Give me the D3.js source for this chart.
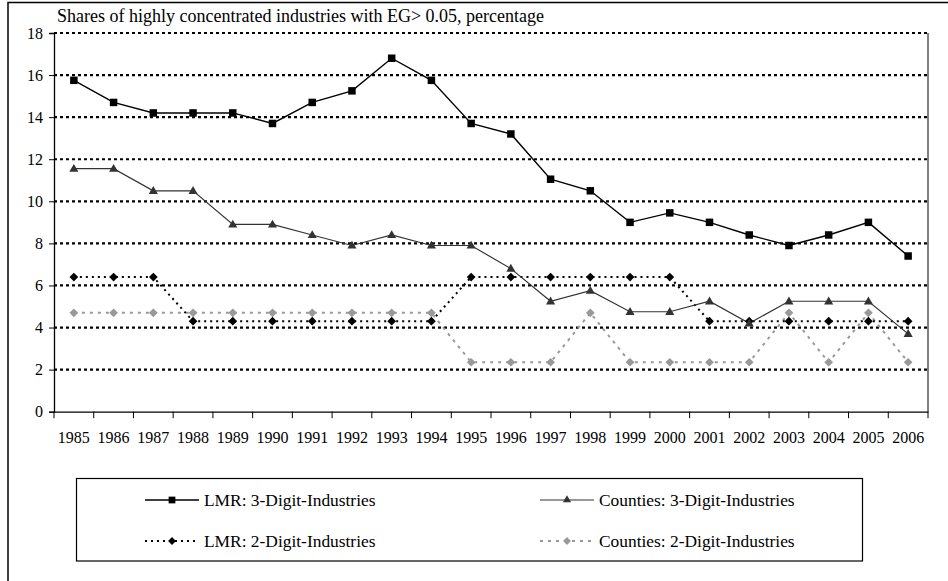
<!DOCTYPE html>
<html><head><meta charset="utf-8">
<script src="https://cdn.jsdelivr.net/npm/d3@7"></script>
<style>html,body{margin:0;padding:0;background:#fff;overflow:hidden}svg{display:block}</style>
</head><body>
<script>
const years = [1985,1986,1987,1988,1989,1990,1991,1992,1993,1994,1995,1996,1997,1998,1999,2000,2001,2002,2003,2004,2005,2006];
const lmr3 = [15.75,14.7,14.2,14.2,14.2,13.7,14.7,15.25,16.8,15.75,13.7,13.2,11.05,10.5,9.0,9.45,9.0,8.4,7.9,8.4,9.0,7.4];
const cty3 = [11.55,11.55,10.5,10.5,8.9,8.9,8.4,7.9,8.4,7.9,7.9,6.8,5.25,5.75,4.75,4.75,5.25,4.2,5.25,5.25,5.25,3.7];
const lmr2 = [6.4,6.4,6.4,4.3,4.3,4.3,4.3,4.3,4.3,4.3,6.4,6.4,6.4,6.4,6.4,6.4,4.3,4.3,4.3,4.3,4.3,4.3];
const cty2 = [4.7,4.7,4.7,4.7,4.7,4.7,4.7,4.7,4.7,4.7,2.35,2.35,2.35,4.7,2.35,2.35,2.35,2.35,4.7,2.35,4.7,2.35];
const yTicks = [0,2,4,6,8,10,12,14,16,18];
const titleText = "Shares of highly concentrated industries with EG> 0.05, percentage";
const seriesNames = ["LMR: 3-Digit-Industries","Counties: 3-Digit-Industries","LMR: 2-Digit-Industries","Counties: 2-Digit-Industries"];

const W = 948, H = 581;
const FONT = "'Liberation Serif', 'Times New Roman', serif";
const svg = d3.select("body").append("svg").attr("width", W).attr("height", H);

svg.append("rect").attr("x",8).attr("y",2.5).attr("width",W+20).attr("height",H+20)
  .attr("fill","none").attr("stroke","#000").attr("stroke-width",1.5);

const L = 54, R = 928, T = 33, B = 411.7;
const x = d3.scaleBand().domain(years).range([L,R]);
const y = d3.scaleLinear().domain([0,18]).range([B,T]);
const cx = d => x(d) + x.bandwidth()/2;

svg.append("g").selectAll("line").data(yTicks.filter(v=>v>0)).join("line")
  .attr("x1",L).attr("x2",R).attr("y1",d=>y(d)).attr("y2",d=>y(d))
  .attr("stroke","#000").attr("stroke-width",2.2).attr("stroke-dasharray","3,3");

svg.append("line").attr("x1",R).attr("x2",R).attr("y1",T).attr("y2",B).attr("stroke","#000").attr("stroke-width",1);

const yAxis = svg.append("g").attr("transform",`translate(${L},0)`)
  .call(d3.axisLeft(y).tickValues(yTicks).tickSize(5).tickPadding(6).tickFormat(d3.format("d")));
yAxis.select(".domain").attr("stroke","#000").attr("stroke-width",1.3);
yAxis.selectAll(".tick line").attr("stroke","#000").attr("stroke-width",1);
yAxis.selectAll("text").attr("fill","#000").style("font-family",FONT).style("font-size","16px");

const xAxis = svg.append("g").attr("transform",`translate(0,${B})`)
  .call(d3.axisBottom(x).tickSize(0).tickPadding(20));
xAxis.select(".domain").attr("stroke","#000").attr("stroke-width",1.3);
xAxis.selectAll("text").attr("fill","#000").style("font-family",FONT).style("font-size","16px");
const bounds = years.map(d=>x(d)).concat([R]);
svg.append("g").selectAll("line").data(bounds).join("line")
  .attr("x1",d=>d).attr("x2",d=>d).attr("y1",B).attr("y2",B+6.5)
  .attr("stroke","#000").attr("stroke-width",1);

svg.append("text").attr("x",57).attr("y",22).style("font-family",FONT).style("font-size","18px").text(titleText);

const line = d3.line().x((d,i)=>cx(years[i])).y(d=>y(d));

const styles = [
  {data:lmr3, stroke:"#000", width:1.4, dash:null, marker:"square", fill:"#000"},
  {data:cty3, stroke:"#333", width:1.2, dash:null, marker:"triangle", fill:"#333"},
  {data:lmr2, stroke:"#000", width:2, dash:"2,4", marker:"diamond", fill:"#000"},
  {data:cty2, stroke:"#999", width:2, dash:"3,5", marker:"diamond", fill:"#999"}
];
const sym = {
  square: d3.symbol().type(d3.symbolSquare).size(56),
  triangle: d3.symbol().type(d3.symbolTriangle).size(36),
  diamond: d3.symbol().type(d3.symbolSquare).size(38)
};
const rot = m => m==="diamond" ? " rotate(45)" : "";
const drawOrder = [3,2,1,0];
drawOrder.forEach(k=>{
  const s = styles[k];
  svg.append("path").attr("d",line(s.data)).attr("fill","none")
    .attr("stroke",s.stroke).attr("stroke-width",s.width)
    .attr("stroke-dasharray",s.dash);
});
drawOrder.forEach(k=>{
  const s = styles[k];
  svg.append("g").selectAll("path").data(s.data).join("path")
    .attr("d",sym[s.marker]())
    .attr("transform",(d,i)=>`translate(${cx(years[i])},${y(d) + (s.marker==="triangle"?0.5:0)})${rot(s.marker)}`)
    .attr("fill",s.fill);
});

svg.append("rect").attr("x",76.5).attr("y",478.5).attr("width",786).attr("height",82.5)
  .attr("fill","#fff").attr("stroke","#000").attr("stroke-width",1.2);
const legPos = [[145,500],[540,500],[145,541],[540,541]];
styles.forEach((s,k)=>{
  const [lx,ly] = legPos[k];
  const g = svg.append("g").attr("transform",`translate(${lx},${ly})`);
  g.append("line").attr("x1",0).attr("x2",54).attr("y1",0).attr("y2",0)
    .attr("stroke",s.stroke).attr("stroke-width",s.width).attr("stroke-dasharray",s.dash);
  g.append("path").attr("d",sym[s.marker]()).attr("fill",s.fill)
    .attr("transform",`translate(27,0) scale(0.9)${rot(s.marker)}`);
  g.append("text").attr("x",59).attr("y",6).style("font-family",FONT).style("font-size","17.4px")
    .text(seriesNames[k]);
});
</script>
</body></html>
